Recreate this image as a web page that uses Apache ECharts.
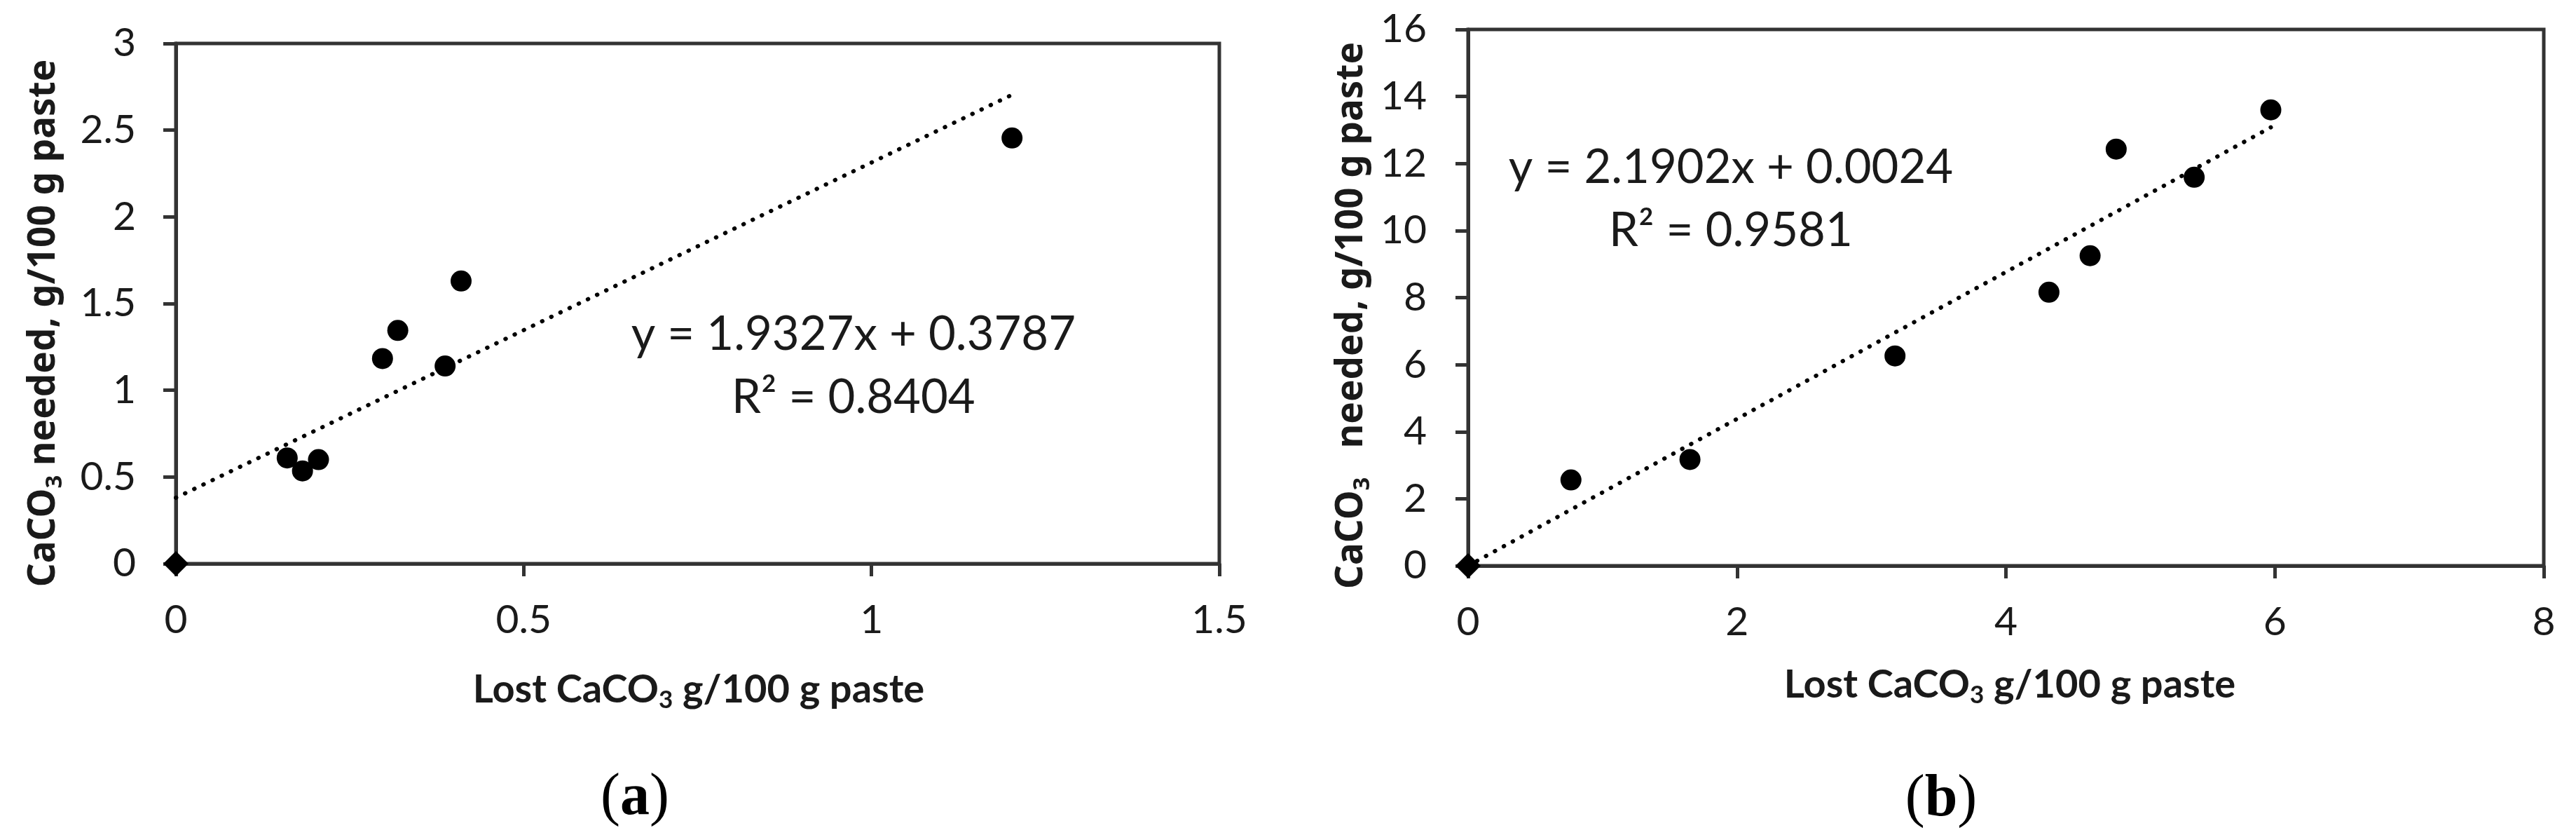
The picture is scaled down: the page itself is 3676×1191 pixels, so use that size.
<!DOCTYPE html>
<html>
<head>
<meta charset="utf-8">
<script src="https://cdn.jsdelivr.net/npm/echarts@6/dist/echarts.min.js"></script>
<style>
  html, body { margin: 0; padding: 0; background: #fff; }
  #chart { width: 3676px; height: 1191px; }
</style>
</head>
<body>
<div id="chart"></div>
<script>
// panel (a): lost vs needed CaCO3
var lostA = [0.16, 0.182, 0.205, 0.297, 0.319, 0.387, 0.41, 1.202];
var neededA = [0.61, 0.535, 0.6, 1.183, 1.345, 1.14, 1.63, 2.455];
var trendA = [[0, 0.38], [1.2, 2.70]];
var eqA = 'y = 1.9327x + 0.3787\nR² = 0.8404';
var eqPosA = [0.974, 1.14];

// panel (b)
var lostB = [0.765, 1.65, 3.175, 4.32, 4.626, 4.82, 5.40, 5.97];
var neededB = [2.56, 3.17, 6.26, 8.16, 9.25, 12.43, 11.59, 13.60];
var trendB = [[0, 0.0], [5.97, 13.08]];
var eqB = 'y = 2.1902x + 0.0024\nR² = 0.9581';
var eqPosB = [1.954, 10.93];

var origin = [[0, 0]];

var axisColor = '#333';
var textColor = '#1a1a1a';
var tickFont = { fontFamily: 'Lato', fontSize: 57, color: textColor };

function pairs(xs, ys) {
    return xs.map(function (x, i) { return [x, ys[i]]; });
}

function xAxisOf(grid, max, step) {
    return {
        type: 'value', gridIndex: grid, min: 0, max: max, interval: step,
        axisLine: { show: true, lineStyle: { color: axisColor, width: 5 } },
        axisTick: { show: true, inside: false, length: 18, lineStyle: { color: axisColor, width: 5 } },
        axisLabel: Object.assign({ margin: 52 }, tickFont),
        splitLine: { show: false }
    };
}
function yAxisOf(grid, max, step, margin) {
    return {
        type: 'value', gridIndex: grid, min: 0, max: max, interval: step,
        axisLine: { show: true, lineStyle: { color: axisColor, width: 5 } },
        axisTick: { show: true, inside: false, length: 18, lineStyle: { color: axisColor, width: 5 } },
        axisLabel: Object.assign({ margin: margin }, tickFont),
        splitLine: { show: false }
    };
}

function seriesOf(idx, pts, trend, eq, eqPos) {
    return [
        {
            type: 'line', xAxisIndex: idx, yAxisIndex: idx, data: trend,
            showSymbol: false, silent: true, z: 3,
            lineStyle: { color: '#000', width: 6, type: [0.5, 14], cap: 'round' }
        },
        {
            type: 'scatter', xAxisIndex: idx, yAxisIndex: idx, data: pts,
            symbol: 'circle', symbolSize: 30, clip: false, z: 4,
            itemStyle: { color: '#000', opacity: 1 }
        },
        {
            type: 'scatter', xAxisIndex: idx, yAxisIndex: idx, data: origin,
            symbol: 'diamond', symbolSize: 36, clip: false, z: 4,
            itemStyle: { color: '#000', opacity: 1 }
        },
        {
            type: 'scatter', xAxisIndex: idx, yAxisIndex: idx, data: [eqPos],
            symbolSize: 0, silent: true, z: 5,
            itemStyle: { opacity: 1 },
            label: {
                show: true, position: 'inside', formatter: eq,
                fontFamily: 'Lato', fontSize: 67, lineHeight: 90,
                color: textColor, opacity: 1, align: 'center', verticalAlign: 'middle'
            }
        }
    ];
}

var yTitleRich = {
    b: { fontFamily: 'Noto Sans', fontWeight: 'bold', fontSize: 53, lineHeight: 64, fill: textColor },
    s: { fontFamily: 'Noto Sans', fontWeight: 'bold', fontSize: 33, lineHeight: 30, verticalAlign: 'bottom', fill: textColor }
};
var xTitleRich = {
    b: { fontFamily: 'Lato', fontWeight: 'bold', fontSize: 56, lineHeight: 64, fill: textColor },
    s: { fontFamily: 'Lato', fontWeight: 'bold', fontSize: 35, lineHeight: 30, verticalAlign: 'bottom', fill: textColor }
};
var panelRich = {
    p: { fontFamily: 'Liberation Serif', fontSize: 84, fill: '#000' },
    b: { fontFamily: 'Liberation Serif', fontSize: 84, fontWeight: 'bold', fill: '#000' }
};

function textEl(x, y, text, rich, rot) {
    return {
        type: 'text', x: x, y: y, rotation: rot || 0, silent: true,
        style: { text: text, rich: rich, align: 'center', verticalAlign: 'middle' }
    };
}

var myChart = echarts.init(document.getElementById('chart'));

var option = {
    backgroundColor: '#fff',
    animation: false,
    grid: [
        { left: 251, top: 62, width: 1489, height: 742, show: true, borderColor: axisColor, borderWidth: 5 },
        { left: 2095, top: 42, width: 1535, height: 765, show: true, borderColor: axisColor, borderWidth: 5 }
    ],
    xAxis: [xAxisOf(0, 1.5, 0.5), xAxisOf(1, 8, 2)],
    yAxis: [yAxisOf(0, 3, 0.5, 57), yAxisOf(1, 16, 2, 59)],
    series: seriesOf(0, pairs(lostA, neededA), trendA, eqA, eqPosA)
        .concat(seriesOf(1, pairs(lostB, neededB), trendB, eqB, eqPosB)),
    graphic: [
        textEl(63, 461, '{b|CaCO}{s|3}{b| needed, g/100 g paste}', yTitleRich, Math.PI / 2),
        textEl(1929, 450, '{b|CaCO}{s|3}{b|   needed, g/100 g paste}', yTitleRich, Math.PI / 2),
        textEl(997, 984, '{b|Lost CaCO}{s|3}{b| g/100 g paste}', xTitleRich),
        textEl(2868, 977, '{b|Lost CaCO}{s|3}{b| g/100 g paste}', xTitleRich),
        textEl(906, 1139, '{p|(}{b|a}{p|)}', panelRich),
        textEl(2770, 1141, '{p|(}{b|b}{p|)}', panelRich)
    ]
};

myChart.setOption(option);
</script>
</body>
</html>
